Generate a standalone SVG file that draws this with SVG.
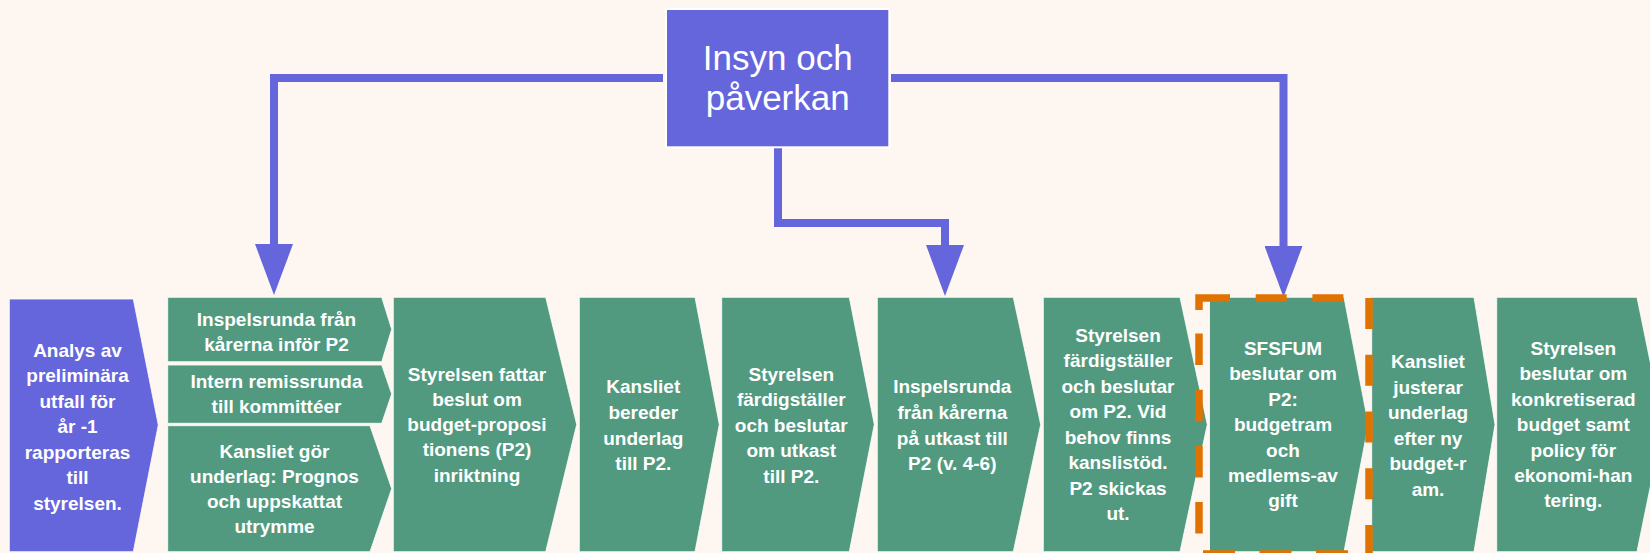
<svg xmlns="http://www.w3.org/2000/svg" width="1650" height="553" viewBox="0 0 1650 553">
  <style>
    .bg { fill: #FEF7F1; }
    .green { fill: #519A80; stroke: #ffffff; stroke-width: 0.8; }
    .blue { fill: #6565DC; stroke: #ffffff; stroke-width: 0.8; }
    .topbox { fill: #6565DC; stroke: #ffffff; stroke-width: 2; }
    .t { font-family: "Liberation Sans", Arial, sans-serif; font-weight: bold; font-size: 19px; fill: #ffffff; text-anchor: middle; }
    .tt { font-family: "Liberation Sans", Arial, sans-serif; font-size: 35px; fill: #ffffff; text-anchor: middle; }
    .conn { fill: none; stroke: #6565DC; stroke-width: 8; stroke-linejoin: miter; stroke-linecap: butt; }
    .dash { fill: none; stroke: #DF7200; stroke-width: 7.5; stroke-linejoin: miter; stroke-linecap: butt; }
  </style>
  <defs>
    <marker id="arrow" viewBox="0 -19 51 38" markerWidth="51" markerHeight="38" refX="0" refY="0" orient="auto" markerUnits="userSpaceOnUse">
      <path d="M0,-19 L51,0 L0,19 Z" fill="#6565DC"/>
    </marker>
  </defs>
  <rect class="bg" x="0" y="0" width="1650" height="553"/>

  <g id="connectors">
    <path class="conn" d="M663,78 H274 V244" marker-end="url(#arrow)"/>
    <path class="conn" d="M778,148 V223 H945 V245" marker-end="url(#arrow)"/>
    <path class="conn" d="M891,78 H1283.5 V246" marker-end="url(#arrow)"/>
  </g>

  <g id="insyn">
    <rect class="topbox" x="666" y="9" width="223.3" height="138.3"/>
    <text class="tt" x="777.7" y="70">Insyn och</text>
    <text class="tt" x="777.7" y="110">påverkan</text>
  </g>

  <g id="analys">
    <polygon class="blue" points="9.3,299 133.3,299 158.3,425 133.3,551.7 9.3,551.7"/>
    <text class="t" x="77.5" y="356.5">Analys av</text>
    <text class="t" x="77.5" y="382">preliminära</text>
    <text class="t" x="77.5" y="407.5">utfall för</text>
    <text class="t" x="77.5" y="433">år -1</text>
    <text class="t" x="77.5" y="458.5">rapporteras</text>
    <text class="t" x="77.5" y="484">till</text>
    <text class="t" x="77.5" y="509.5">styrelsen.</text>
  </g>

  <g id="inspel1">
    <polygon class="green" points="167.7,297.3 381.7,297.3 391.7,329.3 381.7,361.7 167.7,361.7"/>
    <text class="t" x="276.5" y="326">Inspelsrunda från</text>
    <text class="t" x="276.5" y="350.5">kårerna inför P2</text>
  </g>

  <g id="remiss">
    <polygon class="green" points="167.7,365 381.7,365 391.7,394 381.7,423.3 167.7,423.3"/>
    <text class="t" x="276.5" y="388.3">Intern remissrunda</text>
    <text class="t" x="276.5" y="413.3">till kommittéer</text>
  </g>

  <g id="underlag">
    <polygon class="green" points="167.7,425.7 370,425.7 391.7,488.7 370,551.7 167.7,551.7"/>
    <text class="t" x="274.5" y="457.7">Kansliet gör</text>
    <text class="t" x="274.5" y="482.9">underlag: Prognos</text>
    <text class="t" x="274.5" y="508.1">och uppskattat</text>
    <text class="t" x="274.5" y="533.3">utrymme</text>
  </g>

  <g id="fattar">
    <polygon class="green" points="393.3,297.3 545.7,297.3 576.7,424.5 545.7,551.7 393.3,551.7"/>
    <text class="t" x="477" y="380.7">Styrelsen fattar</text>
    <text class="t" x="477" y="405.9">beslut om</text>
    <text class="t" x="477" y="431.2">budget-proposi</text>
    <text class="t" x="477" y="456.4">tionens (P2)</text>
    <text class="t" x="477" y="481.7">inriktning</text>
  </g>

  <g id="bereder">
    <polygon class="green" points="579.3,297.3 695,297.3 719.3,424.5 695,551.7 579.3,551.7"/>
    <text class="t" x="643.3" y="393.3">Kansliet</text>
    <text class="t" x="643.3" y="418.9">bereder</text>
    <text class="t" x="643.3" y="444.5">underlag</text>
    <text class="t" x="643.3" y="470.1">till P2.</text>
  </g>

  <g id="utkast">
    <polygon class="green" points="721.7,297.3 849.3,297.3 874.3,424.5 849.3,551.7 721.7,551.7"/>
    <text class="t" x="791.3" y="380.7">Styrelsen</text>
    <text class="t" x="791.3" y="406.2">färdigställer</text>
    <text class="t" x="791.3" y="431.7">och beslutar</text>
    <text class="t" x="791.3" y="457.2">om utkast</text>
    <text class="t" x="791.3" y="482.7">till P2.</text>
  </g>

  <g id="inspel2">
    <polygon class="green" points="877.3,297.3 1013.3,297.3 1040.7,424.5 1013.3,551.7 877.3,551.7"/>
    <text class="t" x="952.3" y="393.3">Inspelsrunda</text>
    <text class="t" x="952.3" y="418.9">från kårerna</text>
    <text class="t" x="952.3" y="444.5">på utkast till</text>
    <text class="t" x="952.3" y="470.1">P2 (v. 4-6)</text>
  </g>

  <g id="beslutarP2">
    <polygon class="green" points="1043.3,297.3 1180,297.3 1207.3,424.5 1180,551.7 1043.3,551.7"/>
    <text class="t" x="1118" y="341.7">Styrelsen</text>
    <text class="t" x="1118" y="367.2">färdigställer</text>
    <text class="t" x="1118" y="392.7">och beslutar</text>
    <text class="t" x="1118" y="418.2">om P2. Vid</text>
    <text class="t" x="1118" y="443.7">behov finns</text>
    <text class="t" x="1118" y="469.2">kanslistöd.</text>
    <text class="t" x="1118" y="494.7">P2 skickas</text>
    <text class="t" x="1118" y="520.2">ut.</text>
  </g>

  <g id="sfsfum">
    <polygon class="green" points="1209.5,297.3 1344,297.3 1368.3,424.5 1344,551.7 1209.5,551.7"/>
    <text class="t" x="1283" y="355">SFSFUM</text>
    <text class="t" x="1283" y="380.4">beslutar om</text>
    <text class="t" x="1283" y="405.8">P2:</text>
    <text class="t" x="1283" y="431.2">budgetram</text>
    <text class="t" x="1283" y="456.6">och</text>
    <text class="t" x="1283" y="482">medlems-av</text>
    <text class="t" x="1283" y="507.4">gift</text>
  </g>

  <g id="justerar">
    <polygon class="green" points="1371.7,297.3 1474,297.3 1495,424.5 1474,551.7 1371.7,551.7"/>
    <text class="t" x="1428" y="368.3">Kansliet</text>
    <text class="t" x="1428" y="393.8">justerar</text>
    <text class="t" x="1428" y="419.3">underlag</text>
    <text class="t" x="1428" y="444.8">efter ny</text>
    <text class="t" x="1428" y="470.3">budget-r</text>
    <text class="t" x="1428" y="495.8">am.</text>
  </g>

  <g id="konkretiserad">
    <polygon class="green" points="1496.7,297.3 1637,297.3 1663,424.5 1637,551.7 1496.7,551.7"/>
    <text class="t" x="1573.3" y="355">Styrelsen</text>
    <text class="t" x="1573.3" y="380.4">beslutar om</text>
    <text class="t" x="1573.3" y="405.8">konkretiserad</text>
    <text class="t" x="1573.3" y="431.2">budget samt</text>
    <text class="t" x="1573.3" y="456.6">policy för</text>
    <text class="t" x="1573.3" y="482">ekonomi-han</text>
    <text class="t" x="1573.3" y="507.4">tering.</text>
  </g>

  <g id="highlight">
    <path class="dash" d="M1199,310 V298 H1369 V553" stroke-dasharray="43 25.7 31 25.7 31 25.7 31 25.7 31 25.7 31 25.7 31 25.7 31 25.7 31 25.7"/>
    <path class="dash" d="M1199,333.5 V553" stroke-dasharray="31.5 24.7"/>
    <path class="dash" d="M1203,554 H1369" stroke-dasharray="32 24.5"/>
  </g>
</svg>
